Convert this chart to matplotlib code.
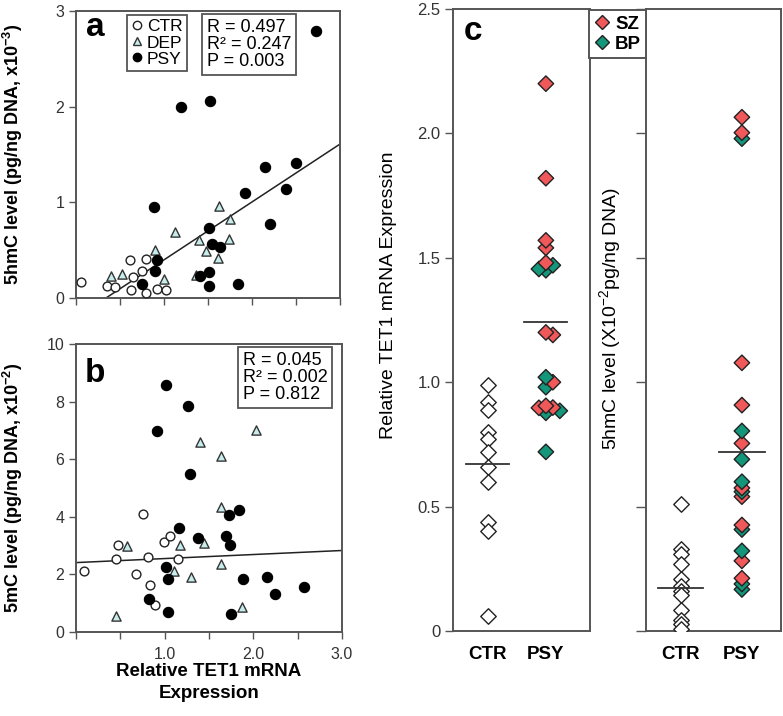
import numpy as np
import matplotlib
matplotlib.use("Agg")
import matplotlib.pyplot as plt
from matplotlib.lines import Line2D

# ---- panel a: 5hmC vs TET1 expression ----
a_ctr_x = [0.06, 0.35, 0.44, 0.61, 0.63, 0.65, 0.75, 0.79, 0.80, 0.92, 1.02]
a_ctr_y = [0.17, 0.13, 0.12, 0.40, 0.08, 0.22, 0.28, 0.41, 0.05, 0.09, 0.08]
a_dep_x = [0.40, 0.52, 0.90, 1.00, 1.12, 1.36, 1.40, 1.48, 1.61, 1.62, 1.74, 1.75]
a_dep_y = [0.23, 0.25, 0.50, 0.20, 0.69, 0.24, 0.61, 0.49, 0.42, 0.96, 0.62, 0.83]
a_psy_x = [2.73, 1.19, 1.52, 0.89, 0.92, 0.90, 0.75, 1.41, 1.51, 1.51, 1.51,
           1.55, 1.64, 1.84, 1.92, 2.15, 2.21, 2.39, 2.50]
a_psy_y = [2.79, 2.00, 2.06, 0.95, 0.40, 0.28, 0.15, 0.23, 0.27, 0.13, 0.73,
           0.56, 0.53, 0.15, 1.10, 1.37, 0.77, 1.14, 1.41]
a_fit = [0.605, -0.206]  # slope, intercept
a_stats = "R = 0.497\nR² = 0.247\nP = 0.003"

# ---- panel b: 5mC vs TET1 expression ----
b_ctr_x = [0.09, 0.47, 0.45, 0.68, 0.75, 0.81, 0.84, 0.89, 0.99, 1.06, 1.15]
b_ctr_y = [2.13, 3.02, 2.52, 2.01, 4.10, 2.62, 1.63, 0.93, 3.14, 3.34, 2.52]
b_dep_x = [0.45, 0.57, 1.10, 1.17, 1.30, 1.40, 1.44, 1.63, 1.63, 1.63, 1.87, 2.03]
b_dep_y = [0.55, 2.97, 2.12, 3.02, 1.92, 6.59, 3.08, 6.10, 4.34, 2.36, 0.87, 7.01]
b_psy_x = [1.01, 0.91, 1.26, 1.29, 1.16, 1.01, 1.04, 0.82, 1.04, 1.38, 1.69,
           1.72, 1.74, 1.84, 1.88, 1.75, 2.15, 2.24, 2.57]
b_psy_y = [8.57, 6.98, 7.83, 5.47, 3.60, 2.27, 1.83, 1.16, 0.70, 3.26, 3.35,
           4.07, 3.01, 4.24, 1.83, 0.64, 1.92, 1.31, 1.55]
b_fit = [0.14, 2.41]
b_stats = "R = 0.045\nR² = 0.002\nP = 0.812"

# ---- panel c: group comparisons ----
groups = ["CTR", "PSY"]
c_ctr_tet1 = [0.99, 0.92, 0.89, 0.80, 0.77, 0.72, 0.66, 0.60, 0.44, 0.40, 0.06]
c_sz_tet1 = [2.20, 1.82, 1.57, 1.54, 1.48, 1.20, 1.19, 1.00, 0.905, 0.898, 0.897]
c_bp_tet1 = [1.47, 1.455, 1.45, 1.02, 0.98, 0.885, 0.877, 0.72]
c_tet1_means = [0.67, 1.24]

c_ctr_hmc = [0.51, 0.33, 0.31, 0.27, 0.21, 0.18, 0.16, 0.145, 0.085, 0.045, 0.03, 0.01]
c_sz_hmc = [2.065, 2.003, 1.078, 0.908, 0.754, 0.575, 0.54, 0.426, 0.282, 0.212]
c_bp_hmc = [1.979, 0.804, 0.69, 0.60, 0.56, 0.408, 0.322, 0.189, 0.167]
c_hmc_means = [0.174, 0.72]

EDGE = "#555555"
DEP_FILL = "#c6ecec"
SZ_COL = "#f0585a"
BP_COL = "#13967a"

plt.rcParams["font.family"] = ["Liberation Sans", "DejaVu Sans"]
plt.rcParams["mathtext.default"] = "regular"

W, H = 783, 716
fig = plt.figure(figsize=(W / 100, H / 100), dpi=100)


def add_ax(left, top, right, bottom):
    return fig.add_axes([left / W, 1 - bottom / H, (right - left) / W, (bottom - top) / H])


def frame(ax):
    for s in ax.spines.values():
        s.set_color(EDGE)
        s.set_linewidth(1.4)
    ax.tick_params(direction="out", length=5, width=1, color=EDGE,
                   labelcolor="#333333", labelsize=11.5)


def swarm(values, dy, dx):
    # simple greedy beeswarm: push overlapping points sideways
    values = np.asarray(values)
    offsets = np.zeros(len(values))
    placed = []
    for i in np.argsort(values)[::-1]:
        v = values[i]
        for k in [0, 1, -1, 2, -2, 3, -3]:
            off = k * dx
            if all(abs(v - pv) >= dy or abs(off - po) >= dx * 0.99 for pv, po in placed):
                break
        offsets[i] = off
        placed.append((v, off))
    return offsets


def scatter_groups(ax, ctr_x, ctr_y, dep_x, dep_y, psy_x, psy_y):
    ax.scatter(ctr_x, ctr_y, s=40, marker="o", facecolor="white", edgecolor="#222222",
               linewidth=1.0, zorder=3, clip_on=False)
    ax.scatter(dep_x, dep_y, s=44, marker="^", facecolor=DEP_FILL, edgecolor="#333333",
               linewidth=1.0, zorder=3, clip_on=False)
    ax.scatter(psy_x, psy_y, s=55, marker="o", facecolor="black", edgecolor="black",
               linewidth=0.8, zorder=4, clip_on=False)


# panel a
ax_a = add_ax(76, 11, 340, 298)
frame(ax_a)
scatter_groups(ax_a, a_ctr_x, a_ctr_y, a_dep_x, a_dep_y, a_psy_x, a_psy_y)
xs = np.array([0, 3])
ax_a.plot(xs, a_fit[0] * xs + a_fit[1], color="#222222", lw=1.1, zorder=2)
ax_a.set_xlim(0, 3)
ax_a.set_ylim(0, 3)
ax_a.set_xticks(np.arange(0, 3.01, 0.5))
ax_a.set_xticklabels([])
ax_a.set_yticks([0, 1, 2, 3])
ax_a.set_ylabel("5hmC level (pg/ng DNA, x10$^{-3}$)", fontsize=13, fontweight="bold")
ax_a.yaxis.set_label_coords((25 - 76) / 264, 0.5)

handles = [
    Line2D([], [], ls="none", marker="o", ms=6, mfc="white", mec="#222222", label="CTR"),
    Line2D([], [], ls="none", marker="^", ms=6, mfc=DEP_FILL, mec="#333333", label="DEP"),
    Line2D([], [], ls="none", marker="o", ms=6, mfc="black", mec="black", label="PSY"),
]
leg = ax_a.legend(handles=handles, loc="upper left",
                  bbox_to_anchor=((127 - 76) / 264, 1 - (15 - 11) / 287),
                  borderaxespad=0, fontsize=12.5, handlelength=0.6, handletextpad=0.3,
                  labelspacing=0.05, borderpad=0.25, fancybox=False, edgecolor=EDGE,
                  framealpha=1)
leg.get_frame().set_linewidth(1.3)
ax_a.text((207 - 76) / 264, 1 - (19 - 11) / 287, a_stats, transform=ax_a.transAxes,
          ha="left", va="top", fontsize=13, linespacing=1.0, zorder=5,
          bbox=dict(boxstyle="square,pad=0.25", fc="white", ec=EDGE, lw=1.3))

# panel b
ax_b = add_ax(76, 344, 342, 632)
frame(ax_b)
scatter_groups(ax_b, b_ctr_x, b_ctr_y, b_dep_x, b_dep_y, b_psy_x, b_psy_y)
ax_b.plot(xs, b_fit[0] * xs + b_fit[1], color="#222222", lw=1.1, zorder=2)
ax_b.set_xlim(0, 3)
ax_b.set_ylim(0, 10)
ax_b.set_xticks(np.arange(0, 3.01, 0.5))
ax_b.set_xticklabels(["", "", "1.0", "", "2.0", "", "3.0"])
ax_b.tick_params(axis="x", pad=6)
ax_b.set_yticks([0, 2, 4, 6, 8, 10])
ax_b.set_ylabel("5mC level (pg/ng DNA, x10$^{-2}$)", fontsize=13, fontweight="bold")
ax_b.yaxis.set_label_coords((25 - 76) / 266, 0.5)
ax_b.set_xlabel("Relative TET1 mRNA\nExpression", fontsize=13.5, fontweight="bold",
                linespacing=1.4)
ax_b.xaxis.set_label_coords(0.5, -(663 - 632) / 288)
ax_b.text((243 - 76) / 266, 1 - (352 - 344) / 288, b_stats, transform=ax_b.transAxes,
          ha="left", va="top", fontsize=13, linespacing=1.0, zorder=5,
          bbox=dict(boxstyle="square,pad=0.25", fc="white", ec=EDGE, lw=1.3))


# panel c
def diamonds(ax, ctr, sz, bp, means, jitter):
    ax.scatter(np.ones(len(ctr)), ctr, s=62, marker="D", facecolor="white",
               edgecolor="#222222", linewidth=1.0, zorder=3)
    vals = np.array(sz + bp)
    cols = np.array([SZ_COL] * len(sz) + [BP_COL] * len(bp))
    offs = swarm(vals, 0.028, 0.12) if jitter else np.zeros(len(vals))
    order = np.argsort(vals)
    ax.scatter(2 + offs[order], vals[order], s=62, marker="D", c=cols[order],
               edgecolor="#222222", linewidth=1.0, zorder=3)
    for pos, m in zip([1, 2], means):
        ax.plot([pos - 0.37, pos + 0.37], [m, m], color="#333333", lw=1.3, zorder=4)
    ax.set_ylim(0, 2.5)
    ax.set_xticks([1, 2])
    ax.set_xticklabels(groups, fontsize=13.5, fontweight="bold", color="black")
    ax.tick_params(axis="x", length=0, pad=11)
    ax.set_yticks(np.arange(0, 2.51, 0.5))


ax_c1 = add_ax(453, 9, 590, 631)
frame(ax_c1)
diamonds(ax_c1, c_ctr_tet1, c_sz_tet1, c_bp_tet1, c_tet1_means, True)
ax_c1.set_xlim(0.40, 2.76)
ax_c1.set_yticklabels(["0", "0.5", "1.0", "1.5", "2.0", "2.5"], fontsize=12)
ax_c1.tick_params(axis="y", length=6, pad=3)
ax_c1.set_ylabel("Relative TET1 mRNA Expression", fontsize=14)
ax_c1.yaxis.set_label_coords((397 - 453) / 137, 1 - (295 - 9) / 622)

ax_c2 = add_ax(646, 9, 781, 631)
frame(ax_c2)
diamonds(ax_c2, c_ctr_hmc, c_sz_hmc, c_bp_hmc, c_hmc_means, False)
ax_c2.set_xlim(0.43, 2.64)
ax_c2.set_yticklabels([])
ax_c2.tick_params(axis="y", length=7)
ax_c2.set_ylabel("5hmC level (X10$^{-2}$pg/ng DNA)", fontsize=14)
ax_c2.yaxis.set_label_coords((623 - 646) / 135, 1 - (318 - 9) / 622)

c_handles = [
    Line2D([], [], ls="none", marker="D", ms=7.5, mfc=SZ_COL, mec="#222222", label="SZ"),
    Line2D([], [], ls="none", marker="D", ms=7.5, mfc=BP_COL, mec="#222222", label="BP"),
]
c_leg = fig.legend(handles=c_handles, loc="upper left", mode="expand",
                   bbox_to_anchor=(589 / W, 1 - 63 / H, 57 / W, 53 / H),
                   borderaxespad=0, prop={"size": 13.5, "weight": "bold"},
                   handlelength=0.8, handletextpad=0.3, labelspacing=0.15,
                   borderpad=0.3, fancybox=False, edgecolor=EDGE, framealpha=1)
c_leg.get_frame().set_linewidth(1.4)

# panel letters
fig.text(86 / W, 1 - 36 / H, "a", fontsize=24, fontweight="bold", va="baseline")
fig.text(85 / W, 1 - 382 / H, "b", fontsize=24, fontweight="bold", va="baseline")
fig.text(464 / W, 1 - 40 / H, "c", fontsize=24, fontweight="bold", va="baseline")

fig.savefig("out.png", dpi=100)
